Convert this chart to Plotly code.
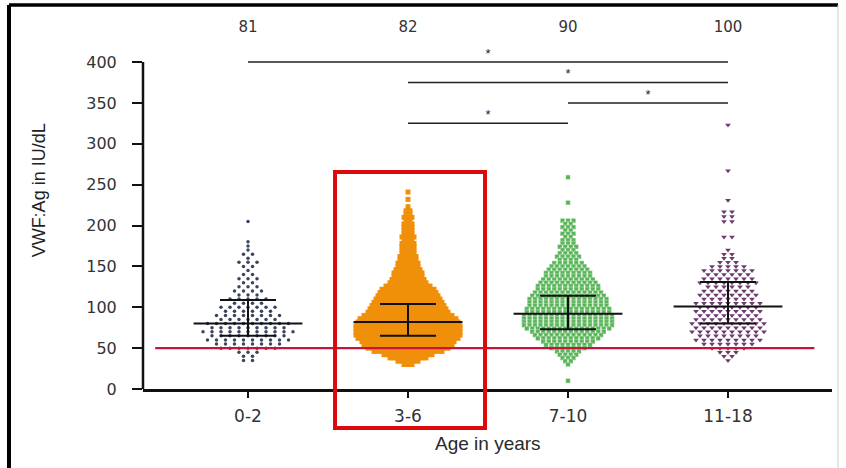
import plotly.graph_objects as go

# ---------------- data ----------------
CATEGORIES = ["0-2", "3-6", "7-10", "11-18"]
N_LABELS = ["81", "82", "90", "100"]

# swarm rows: value level (IU/dL) and number of dots in that row, per age group
G0_LEVELS = [205, 180, 175, 170, 165, 160, 155, 150, 145, 140, 135, 130, 125, 120, 115, 110, 105, 100,
             95, 90, 85, 80, 75, 70, 65, 60, 55, 50, 45, 40, 35]
G0_COUNTS = [1, 1, 1, 1, 2, 1, 3, 2, 1, 2, 3, 2, 3, 4, 3, 5, 4, 7,
             6, 8, 7, 10, 9, 11, 9, 10, 8, 7, 3, 2, 2]

G1_LEVELS = [241, 232, 223, 218, 214, 210, 206, 202, 198, 194, 190, 186, 182, 178, 174, 170, 166, 162,
             158, 154, 150, 146, 142, 138, 134, 130, 126, 122, 118, 114, 110, 106, 102, 98, 94, 90,
             86, 82, 78, 74, 70, 66, 62, 58, 54, 50, 46, 42, 38, 34, 30]
G1_COUNTS = [1, 1, 1, 2, 2, 3, 2, 3, 3, 3, 3, 4, 3, 4, 4, 4, 4, 5,
             5, 6, 6, 7, 8, 8, 9, 10, 12, 14, 15, 16, 17, 18, 19, 20, 21, 23,
             25, 26, 27, 27, 27, 27, 26, 24, 23, 21, 18, 13, 10, 6, 3]

G2_LEVELS = [259, 228, 206, 202, 198, 194, 190, 186, 182, 178, 174, 170, 166, 162, 158, 154, 150, 146,
             142, 138, 134, 130, 126, 122, 118, 114, 110, 106, 102, 98, 94, 90, 86, 82, 78, 74,
             70, 66, 62, 58, 54, 50, 46, 42, 38, 34, 30, 10]
G2_COUNTS = [1, 1, 3, 2, 3, 2, 3, 2, 3, 3, 4, 3, 4, 5, 4, 6, 7, 8,
             9, 9, 10, 11, 12, 12, 13, 14, 15, 15, 15, 16, 16, 17, 17, 17, 17, 16,
             14, 13, 12, 10, 9, 7, 5, 4, 3, 2, 1, 1]

G3_LEVELS = [323, 267, 231, 217, 211, 205, 186, 170, 165, 160, 155, 150, 145, 140, 135, 130, 125, 120,
             115, 110, 105, 100, 95, 90, 85, 80, 75, 70, 65, 60, 55, 50, 45, 40, 35]
G3_COUNTS = [1, 1, 1, 2, 2, 2, 2, 1, 2, 2, 3, 5, 7, 6, 7, 8, 6, 7,
             8, 7, 9, 8, 9, 8, 9, 10, 9, 10, 8, 9, 7, 5, 3, 2, 1]

MEDIANS = [80, 82, 92, 101]
Q1 = [65, 65, 73, 80]
Q3 = [109, 104, 114, 131]

THRESHOLD = 50

SIG_X0 = [0, 1, 2, 1]
SIG_X1 = [3, 3, 3, 2]
SIG_Y = [400, 375, 350, 325]
SIG_TEXT = ["*", "*", "*", "*"]

Y_TICKS = [0, 50, 100, 150, 200, 250, 300, 350, 400]

# ---------------- layout constants ----------------
W, H = 846, 468
ML, MR, MT, MB = 143, 14, 13, 79
X_RANGE = [-0.65625, 3.65]
Y_RANGE = [0, 460]
PX_PER_CAT = (W - ML - MR) / (X_RANGE[1] - X_RANGE[0])

GROUPS = [
    dict(levels=G0_LEVELS, counts=G0_COUNTS, spacing=9.0, color="#3a4560", symbol="circle", size=3.5, line=None),
    dict(levels=G1_LEVELS, counts=G1_COUNTS, spacing=4.0, color="#F0900A", symbol="square", size=5, line=None),
    dict(levels=G2_LEVELS, counts=G2_COUNTS, spacing=5.5, color="#58b558", symbol="square", size=4.5,
         line=dict(color="rgba(255,255,255,0.7)", width=0.5)),
    dict(levels=G3_LEVELS, counts=G3_COUNTS, spacing=8.0, color="#6d3b6f", symbol="triangle-down", size=5, line=None),
]


def swarm(center, levels, counts, spacing_px):
    xs, ys = [], []
    for lv, n in zip(levels, counts):
        for i in range(n):
            xs.append(center + (i - (n - 1) / 2) * spacing_px / PX_PER_CAT)
            ys.append(lv)
    return xs, ys


fig = go.Figure()

for gi, g in enumerate(GROUPS):
    xs, ys = swarm(gi, g["levels"], g["counts"], g["spacing"])
    marker = dict(color=g["color"], symbol=g["symbol"], size=g["size"])
    marker["line"] = g["line"] if g["line"] else dict(width=0)
    fig.add_trace(go.Scatter(x=xs, y=ys, mode="markers", marker=marker,
                             hoverinfo="skip", showlegend=False))

# median / IQR bars
MED_HALF = 0.34
IQR_HALF = 0.175
for gi in range(len(CATEGORIES)):
    seg_x = [gi - MED_HALF, gi + MED_HALF, None,
             gi - IQR_HALF, gi + IQR_HALF, None,
             gi - IQR_HALF, gi + IQR_HALF, None,
             gi, gi]
    seg_y = [MEDIANS[gi], MEDIANS[gi], None,
             Q1[gi], Q1[gi], None,
             Q3[gi], Q3[gi], None,
             Q1[gi], Q3[gi]]
    fig.add_trace(go.Scatter(x=seg_x, y=seg_y, mode="lines",
                             line=dict(color="#111111", width=2),
                             hoverinfo="skip", showlegend=False))

# threshold line
fig.add_trace(go.Scatter(x=[-0.58, 3.54], y=[THRESHOLD, THRESHOLD], mode="lines",
                         line=dict(color="#c8143c", width=2.2),
                         hoverinfo="skip", showlegend=False))

# significance lines
for x0, x1, y in zip(SIG_X0, SIG_X1, SIG_Y):
    fig.add_trace(go.Scatter(x=[x0, x1], y=[y, y], mode="lines",
                             line=dict(color="#222222", width=1.5),
                             hoverinfo="skip", showlegend=False))
fig.add_trace(go.Scatter(x=[(a + b) / 2 for a, b in zip(SIG_X0, SIG_X1)],
                         y=[y + 9 for y in SIG_Y], mode="text", text=SIG_TEXT,
                         textfont=dict(family="Liberation Sans", size=13, color="#222222"),
                         hoverinfo="skip", showlegend=False, cliponaxis=False))

# group n labels
fig.add_trace(go.Scatter(x=list(range(len(CATEGORIES))), y=[441] * len(CATEGORIES),
                         mode="text", text=N_LABELS,
                         textfont=dict(family="DejaVu Sans", size=15, color="#333333"),
                         hoverinfo="skip", showlegend=False, cliponaxis=False))

fig.update_xaxes(range=X_RANGE, tickmode="array", tickvals=list(range(len(CATEGORIES))),
                 ticktext=CATEGORIES, showline=True, linecolor="#111111", linewidth=2.5,
                 ticks="outside", ticklen=6, tickwidth=1.5, tickcolor="#111111",
                 tickfont=dict(family="DejaVu Sans", size=17, color="#333333"),
                 ticklabelstandoff=4, showgrid=False, zeroline=False)
fig.update_yaxes(range=Y_RANGE, tickmode="array", tickvals=Y_TICKS,
                 showline=False, ticks="outside", ticklen=10, tickwidth=1.5, tickcolor="#111111",
                 tickfont=dict(family="DejaVu Sans", size=16, color="#333333"),
                 ticklabelstandoff=12, showgrid=False, zeroline=False)

shapes = [
    # y axis line up to 400
    dict(type="line", xref="x domain", yref="y", x0=0, x1=0, y0=0, y1=400,
         line=dict(color="#111111", width=2.5)),
    # highlight box around 3-6
    dict(type="rect", xref="x domain", yref="y domain", x0=0.2787, x1=0.4964, y0=-0.1037, y1=0.5771,
         line=dict(color="#dc0a0a", width=4), fillcolor="rgba(0,0,0,0)"),
    # outer frame
    dict(type="line", xref="paper", yref="paper", x0=-0.1945, x1=-0.1945, y0=-0.25, y1=1.0213,
         line=dict(color="#000000", width=4)),
    dict(type="line", xref="paper", yref="paper", x0=-0.1945, x1=1.0087, y0=1.0213, y1=1.0213,
         line=dict(color="#000000", width=3.5)),
    dict(type="line", xref="paper", yref="paper", x0=1.0087, x1=1.0087, y0=-0.25, y1=1.0213,
         line=dict(color="#cccccc", width=1)),
]

annotations = [
    dict(text="VWF:Ag in IU/dL", xref="x domain", yref="y", x=0, y=243, xshift=-104,
         textangle=-90, showarrow=False, xanchor="center", yanchor="middle",
         font=dict(family="Liberation Sans", size=18, color="#222222")),
    dict(text="Age in years", xref="x", yref="y domain", x=1.5, y=0, yshift=-54,
         showarrow=False, xanchor="center", yanchor="middle",
         font=dict(family="Liberation Sans", size=19, color="#2a2a2a")),
]

fig.update_layout(width=W, height=H, margin=dict(l=ML, r=MR, t=MT, b=MB),
                  paper_bgcolor="white", plot_bgcolor="white",
                  shapes=shapes, annotations=annotations, showlegend=False)

fig.write_html("out.html")
